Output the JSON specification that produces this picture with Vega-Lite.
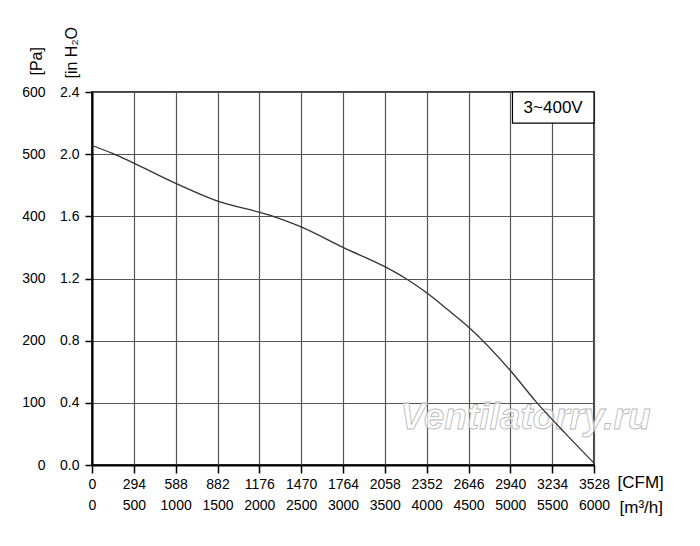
{
  "$schema": "https://vega.github.io/schema/vega-lite/v6.json",
  "autosize": "none",
  "width": 502,
  "height": 373,
  "padding": {"left": 92, "top": 92, "right": 106, "bottom": 81},
  "background": "white",
  "view": {"stroke": "black", "strokeWidth": 1.5},
  "config": {
    "font": "Liberation Sans",
    "axis": {
      "labelFont": "Liberation Sans",
      "labelFontSize": 14,
      "labelColor": "black",
      "titleFont": "Liberation Sans",
      "titleFontSize": 16,
      "titleFontWeight": "normal",
      "titleColor": "black",
      "labelOverlap": false,
      "labelFlush": false,
      "gridColor": "#555555",
      "gridWidth": 1.2,
      "gridOpacity": 1,
      "domainColor": "black",
      "domainWidth": 2,
      "tickColor": "black",
      "tickWidth": 1.5
    }
  },
  "layer": [
    {
      "layer": [
        {
          "data": {"values": [{"cfm": 3046, "pa": 76, "label": "Ventilatorry.ru"}]},
          "mark": {"type": "text", "fontSize": 37, "font": "Liberation Sans", "fontStyle": "italic", "fontWeight": "bold", "fill": "white", "fillOpacity": 0.7, "stroke": "#bbbbbb", "strokeWidth": 0.9, "align": "center", "baseline": "middle"},
          "encoding": {
            "x": {"field": "cfm", "type": "quantitative"},
            "y": {"field": "pa", "type": "quantitative"},
            "text": {"field": "label"}
          }
        },
        {
          "data": {
            "values": [
              {"cfm": 0, "pa": 514},
              {"cfm": 147, "pa": 501},
              {"cfm": 588, "pa": 453},
              {"cfm": 864, "pa": 426},
              {"cfm": 1274, "pa": 400},
              {"cfm": 1470, "pa": 383},
              {"cfm": 1764, "pa": 350},
              {"cfm": 2058, "pa": 319},
              {"cfm": 2205, "pa": 300},
              {"cfm": 2352, "pa": 277},
              {"cfm": 2499, "pa": 250},
              {"cfm": 2646, "pa": 222},
              {"cfm": 2940, "pa": 152},
              {"cfm": 3120, "pa": 102},
              {"cfm": 3330, "pa": 50},
              {"cfm": 3528, "pa": 3}
            ]
          },
          "mark": {"type": "line", "interpolate": "monotone", "color": "#333333", "strokeWidth": 1.3},
          "encoding": {
            "x": {
              "field": "cfm",
              "type": "quantitative",
              "scale": {"domain": [0, 3528], "nice": false, "zero": false},
              "axis": {
                "orient": "bottom",
                "values": [0, 147, 294, 441, 588, 735, 882, 1029, 1176, 1323, 1470, 1617, 1764, 1911, 2058, 2205, 2352, 2499, 2646, 2793, 2940, 3087, 3234, 3381, 3528],
                "grid": true,
                "format": "d",
                "labelExpr": "datum.value % 294 === 0 ? datum.label : ''",
                "tickSize": {"condition": {"test": "datum.value % 294 === 0", "value": 8}, "value": 4},
                "labelPadding": 4,
                "title": "[CFM]",
                "titleFontSize": 17,
                "titleAlign": "left",
                "titleBaseline": "middle",
                "titleX": 525,
                "titleY": 17
              }
            },
            "y": {
              "field": "pa",
              "type": "quantitative",
              "scale": {"domain": [0, 600], "nice": false, "zero": false},
              "axis": {
                "orient": "left",
                "values": [0, 50, 100, 150, 200, 250, 300, 350, 400, 450, 500, 550, 600],
                "grid": true,
                "labelExpr": "datum.value % 100 === 0 ? format(datum.value / 250, '.1f') : ''",
                "tickSize": {"condition": {"test": "datum.value % 100 === 0", "value": 7}, "value": 4},
                "labelPadding": 6,
                "title": "[in H₂O",
                "titleAngle": 270,
                "titleAlign": "left",
                "titleBaseline": "middle",
                "titleX": -21,
                "titleY": -14
              }
            }
          }
        },
        {
          "data": {"values": [{"cfm": 2955, "cfm2": 3528, "pa": 550, "pa2": 600}]},
          "mark": {"type": "rect", "fill": "white", "stroke": "black", "strokeWidth": 1.2},
          "encoding": {
            "x": {"field": "cfm", "type": "quantitative"},
            "x2": {"field": "cfm2"},
            "y": {"field": "pa", "type": "quantitative"},
            "y2": {"field": "pa2"}
          }
        },
        {
          "data": {"values": [{"cfm": 3241, "pa": 575, "label": "3~400V"}]},
          "mark": {"type": "text", "fontSize": 17, "font": "Liberation Sans", "color": "black", "align": "center", "baseline": "middle"},
          "encoding": {
            "x": {"field": "cfm", "type": "quantitative"},
            "y": {"field": "pa", "type": "quantitative"},
            "text": {"field": "label"}
          }
        }
      ]
    },
    {
      "data": {"values": [{"m3h": 0, "pa": 0}, {"m3h": 6000, "pa": 600}]},
      "mark": {"type": "point", "opacity": 0},
      "encoding": {
        "x": {
          "field": "m3h",
          "type": "quantitative",
          "scale": {"domain": [0, 6000], "nice": false, "zero": false},
          "axis": {
            "orient": "bottom",
            "values": [0, 500, 1000, 1500, 2000, 2500, 3000, 3500, 4000, 4500, 5000, 5500, 6000],
            "format": "d",
            "grid": false,
            "ticks": false,
            "domain": false,
            "labelPadding": 33,
            "title": "[m³/h]",
            "titleFontSize": 17,
            "titleAlign": "left",
            "titleBaseline": "middle",
            "titleX": 527,
            "titleY": 42
          }
        },
        "y": {
          "field": "pa",
          "type": "quantitative",
          "scale": {"domain": [0, 600], "nice": false, "zero": false},
          "axis": {
            "orient": "left",
            "values": [0, 100, 200, 300, 400, 500, 600],
            "format": "d",
            "grid": false,
            "ticks": false,
            "domain": false,
            "labelPadding": 47,
            "title": "[Pa]",
            "titleAngle": 270,
            "titleAlign": "left",
            "titleBaseline": "middle",
            "titleX": -56,
            "titleY": -17
          }
        }
      }
    }
  ],
  "resolve": {
    "scale": {"x": "independent", "y": "independent"},
    "axis": {"x": "independent", "y": "independent"}
  }
}
